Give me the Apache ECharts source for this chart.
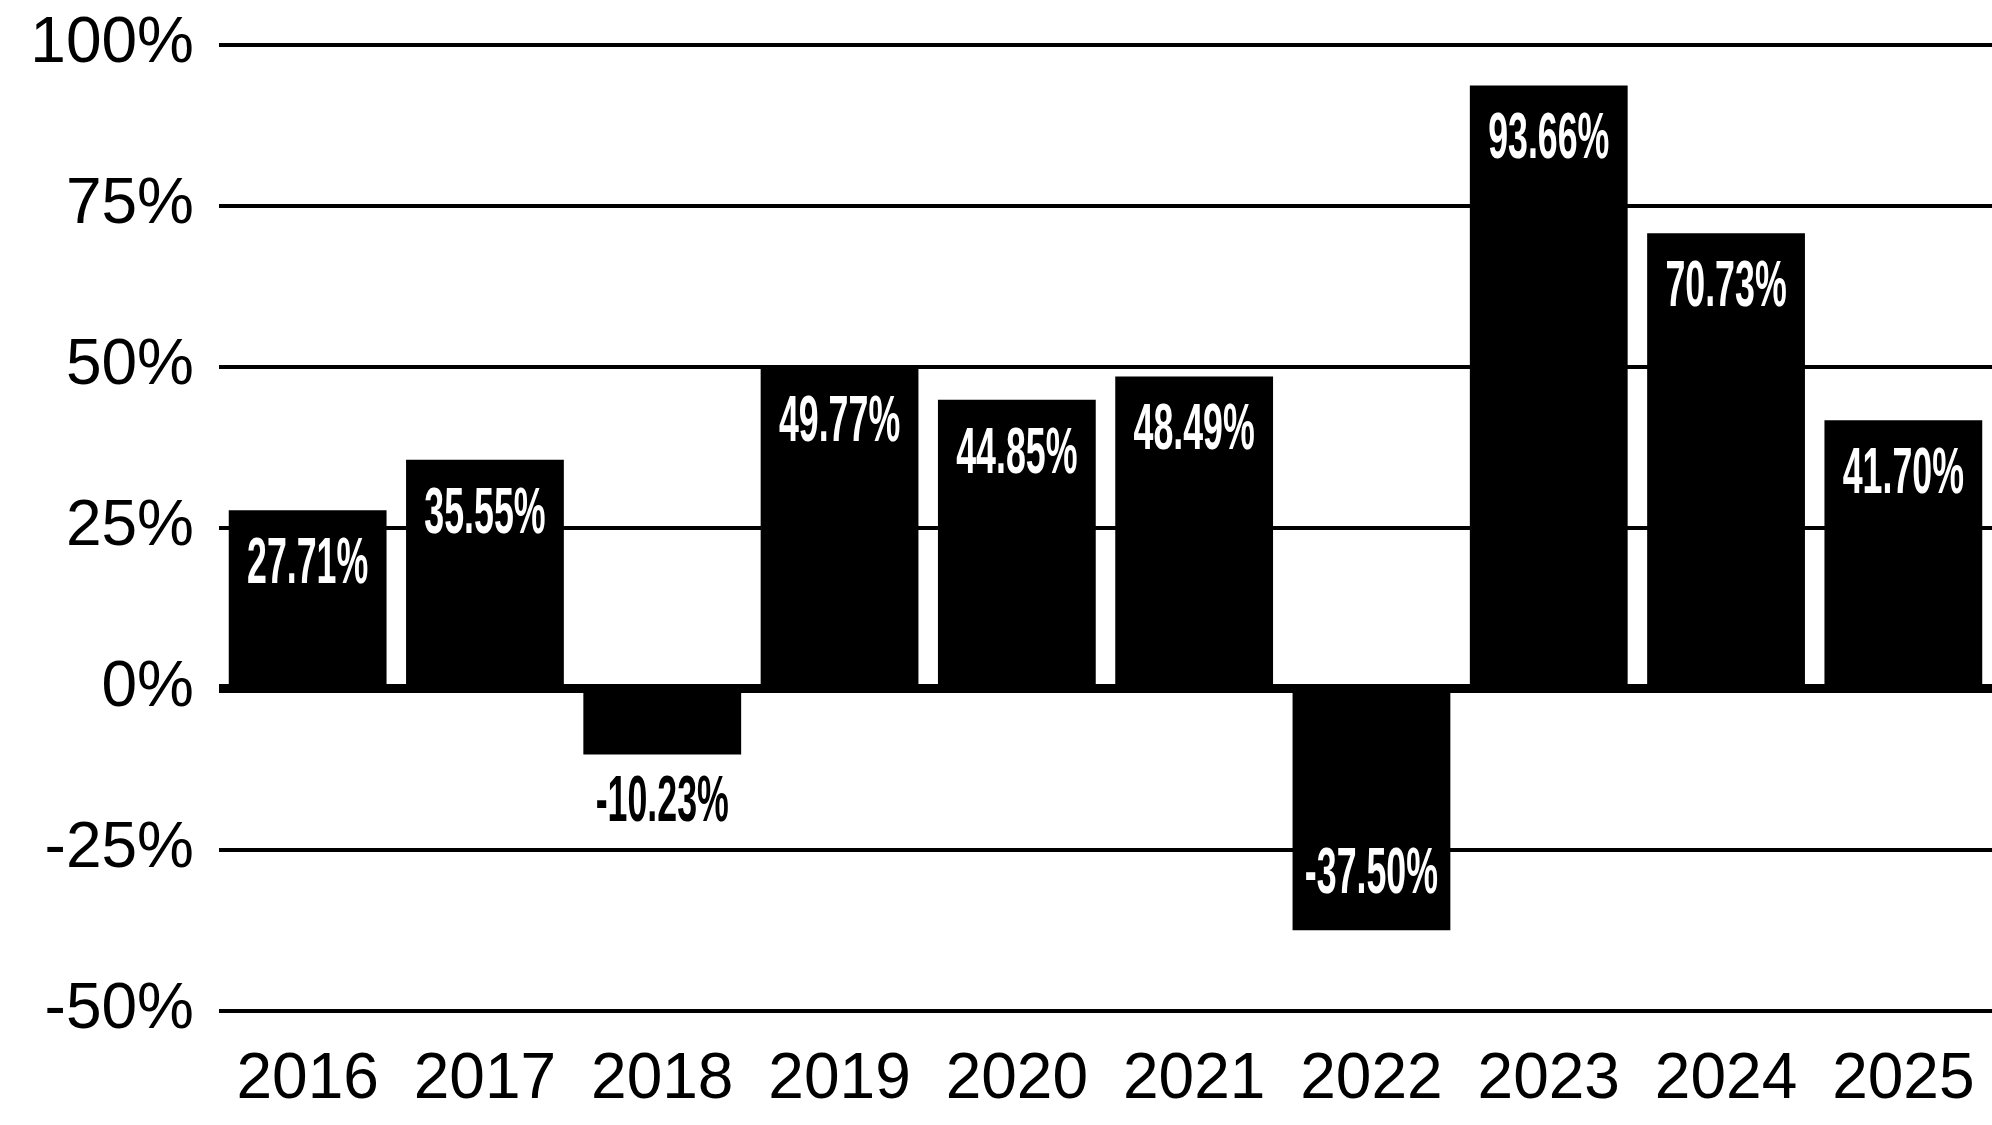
<!DOCTYPE html>
<html>
<head>
<meta charset="utf-8">
<script src="https://cdn.jsdelivr.net/npm/echarts@6/dist/echarts.min.js"></script>
<style>
  html, body { margin: 0; padding: 0; background: #ffffff; }
  #chart { width: 1992px; height: 1125px; }
</style>
</head>
<body>
<div id="chart"></div>
<script>
const years = ['2016', '2017', '2018', '2019', '2020', '2021', '2022', '2023', '2024', '2025'];
const returns = [27.71, 35.55, -10.23, 49.77, 44.85, 48.49, -37.50, 93.66, 70.73, 41.70];
const yMin = -50;
const yMax = 100;
const yStep = 25;

const chart = echarts.init(document.getElementById('chart'), null, { renderer: 'canvas' });

const labelFont = 'bold 65px "Liberation Sans", Arial, sans-serif';

chart.setOption({
  animation: false,
  backgroundColor: '#ffffff',
  grid: { left: 219, right: 0, top: 44.7, bottom: 114.3, containLabel: false },
  xAxis: [
    {
      type: 'category',
      data: years,
      position: 'bottom',
      axisLine: { show: false, onZero: false },
      axisTick: { show: false },
      axisLabel: {
        interval: 0,
        color: '#000000',
        fontFamily: '"Liberation Sans", Arial, sans-serif',
        fontSize: 64,
        margin: 38
      },
      splitLine: { show: false }
    },
    {
      type: 'category',
      data: years,
      position: 'top',
      z: 10,
      axisLine: { show: true, onZero: true, lineStyle: { color: '#000000', width: 9, cap: 'butt' } },
      axisTick: { show: false },
      axisLabel: { show: false },
      splitLine: { show: false }
    }
  ],
  yAxis: {
    type: 'value',
    min: yMin,
    max: yMax,
    interval: yStep,
    axisLine: { show: false },
    axisTick: { show: false },
    axisLabel: {
      color: '#000000',
      fontFamily: '"Liberation Sans", Arial, sans-serif',
      fontSize: 64,
      margin: 25,
      formatter: '{value}%'
    },
    splitLine: { show: true, lineStyle: { color: '#000000', width: 4 } }
  },
  series: [
    {
      type: 'bar',
      xAxisIndex: 0,
      data: returns,
      barCategoryGap: '11%',
      itemStyle: { color: '#000000' },
      z: 2
    },
    {
      type: 'custom',
      xAxisIndex: 0,
      z: 20,
      data: returns.map((v, i) => [i, v]),
      renderItem: function (params, api) {
        const idx = api.value(0);
        const v = api.value(1);
        const end = api.coord([idx, v]);
        const zero = api.coord([idx, 0]);
        const len = Math.abs(zero[1] - end[1]);
        let y;
        let inside = true;
        if (v >= 0) {
          y = end[1] + 55;
        } else if (len > 110) {
          y = end[1] - 55;
        } else {
          y = end[1] + 48;
          inside = false;
        }
        return {
          type: 'text',
          x: end[0],
          y: y,
          scaleX: 0.55,
          style: {
            x: 0,
            y: 0,
            text: v.toFixed(2) + '%',
            fill: inside ? '#ffffff' : '#000000',
            font: labelFont,
            align: 'center',
            verticalAlign: 'middle'
          }
        };
      }
    }
  ]
});
</script>
</body>
</html>
